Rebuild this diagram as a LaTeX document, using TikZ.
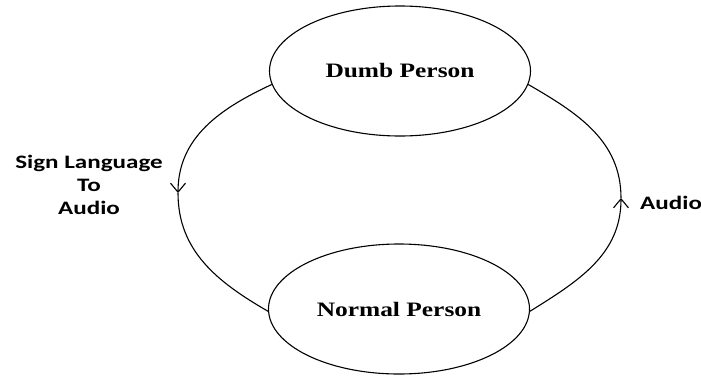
\documentclass[tikz,border=0pt]{standalone}
\usepackage{fontspec}
\setmainfont{Liberation Serif}
\newfontfamily\lblfont{Carlito}
\usetikzlibrary{shapes.geometric,arrows.meta}
\tikzset{
  person/.style={draw, ellipse, line width=1.1pt, minimum width=261pt, minimum height=130pt, inner sep=0pt,
    font=\fontsize{20.5}{22}\selectfont\bfseries},
  side/.style={font=\lblfont\fontsize{19}{25}\selectfont\bfseries, align=center, inner sep=0pt},
  flow/.style={line width=1.1pt},
  tip/.style={-{Straight Barb[length=9pt,width=15pt,line width=1.1pt]}}
}
\newcommand{\wide}[2][1.3]{\scalebox{#1}[1]{#2}}
\begin{document}
\begin{tikzpicture}[x=1pt,y=-1pt]
\useasboundingbox (0,0) rectangle (701,378);
\node[person] (dumb) at (400,71) {\wide[1.24]{Dumb Person}};
\node[person] (normal) at (399,309) {\wide[1.24]{Normal Person}};
\node[side] (sign) at (89,185) {\wide[1.32]{Sign Language}\\[-2pt]\wide[1.32]{To}\\[-2pt]\wide[1.32]{Audio}};
\node[side, anchor=west] (audio) at (640,203) {\wide[1.32]{Audio}};
\coordinate (L) at (178,193);
\coordinate (R) at (621,198);
\draw[flow,tip] (dumb.186) to[out=205,in=90] (L);
\draw[flow] (L) to[out=-90,in=150] (normal.181);
\draw[flow,tip] (normal.-1) to[out=32,in=-90] (R);
\draw[flow] (R) to[out=90,in=-30] (dumb.-6);
\end{tikzpicture}
\end{document}
